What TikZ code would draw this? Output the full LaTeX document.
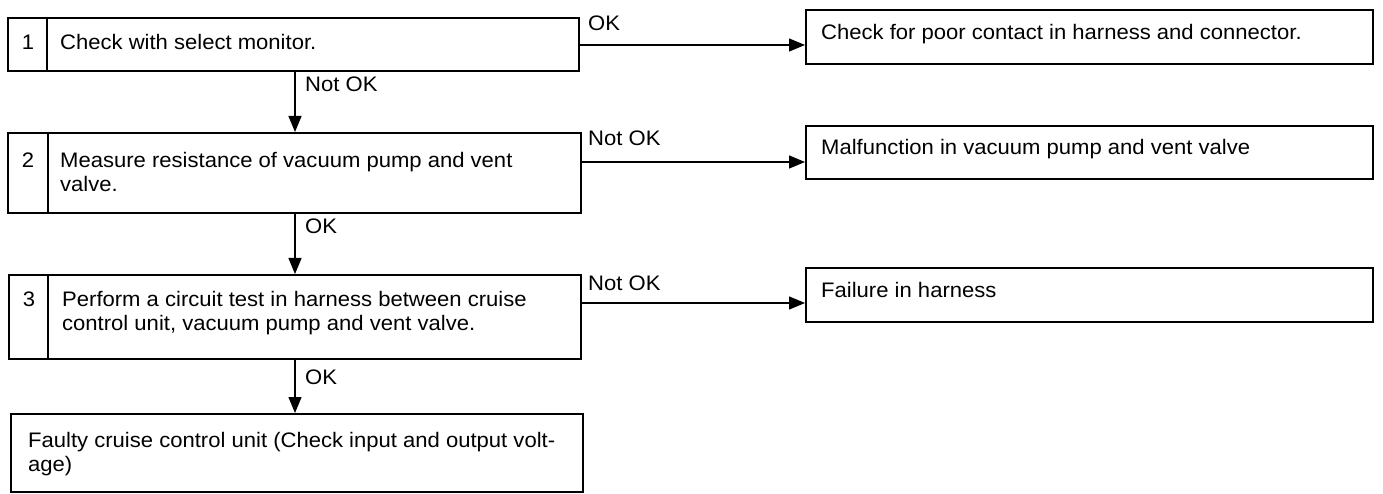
\documentclass[tikz,border=0pt]{standalone}
\usepackage{fontspec}
\setmainfont{Liberation Sans}[FakeStretch=1.05]
\usetikzlibrary{arrows.meta}
\begin{document}
\begin{tikzpicture}[x=1pt,y=-1pt,
  box/.style={draw, line width=1.7pt, rectangle, inner sep=0pt, anchor=north west},
  txt/.style={anchor=base west, inner sep=0pt, align=left, font=\fontsize{21}{24}\selectfont},
  num/.style={anchor=base, inner sep=0pt, font=\fontsize{21}{24}\selectfont},
  arr/.style={line width=1.3pt, -{Triangle[length=16pt,width=13pt]}},
  divline/.style={line width=1.3pt}]
\useasboundingbox (0,0) rectangle (1383,494);
% left boxes
\node[box, minimum width=571pt, minimum height=53pt] (b1) at (7,17) {};
\node[box, minimum width=573pt, minimum height=80pt] (b2) at (7,132) {};
\node[box, minimum width=572pt, minimum height=84pt] (b3) at (8,274) {};
\node[box, minimum width=572pt, minimum height=78pt] (b4) at (10,413) {};
% right boxes
\node[box, minimum width=567pt, minimum height=54pt] (r1) at (805,9) {};
\node[box, minimum width=567pt, minimum height=53pt] (r2) at (805,125) {};
\node[box, minimum width=567pt, minimum height=54pt] (r3) at (805,267) {};
% number dividers
\draw[divline] (47,17) -- (47,70);
\draw[divline] (48,132) -- (48,212);
\draw[divline] (48,274) -- (48,358);
% numbers
\node[num] (n1) at (28,50) {1};
\node[num] (n2) at (28,168) {2};
\node[num] (n3) at (29,306.5) {3};
% texts
\node[txt] (t1) at (60,50) {Check with select monitor.};
\node[txt] (t2) at (60,192) {Measure resistance of vacuum pump and vent\\valve.};
\node[txt] (t3) at (62,330.5) {Perform a circuit test in harness between cruise\\control unit, vacuum pump and vent valve.};
\node[txt] (t4) at (28,471) {Faulty cruise control unit (Check input and output volt-\\age)};
\node[txt] (tr1) at (821,40) {Check for poor contact in harness and connector.};
\node[txt] (tr2) at (821,155) {Malfunction in vacuum pump and vent valve};
\node[txt] (tr3) at (821,298) {Failure in harness};
% helper coordinates
\coordinate (ax) at (295,0);
\coordinate (h1) at (0,45);
\coordinate (h2) at (0,162);
\coordinate (h3) at (0,303);
% connectors
\draw[arr] (b1.south -| ax) -- (b2.north -| ax);
\draw[arr] (b2.south -| ax) -- (b3.north -| ax);
\draw[arr] (b3.south -| ax) -- (b4.north -| ax);
\draw[arr] (b1.east |- h1) -- (r1.west |- h1);
\draw[arr] (b2.east |- h2) -- (r2.west |- h2);
\draw[arr] (b3.east |- h3) -- (r3.west |- h3);
% labels
\node[txt] (l1) at (305,92) {Not OK};
\node[txt] (l2) at (305,234) {OK};
\node[txt] (l3) at (305,384) {OK};
\node[txt] (l4) at (588,31) {OK};
\node[txt] (l5) at (588,146) {Not OK};
\node[txt] (l6) at (588,290) {Not OK};
\end{tikzpicture}
\end{document}
